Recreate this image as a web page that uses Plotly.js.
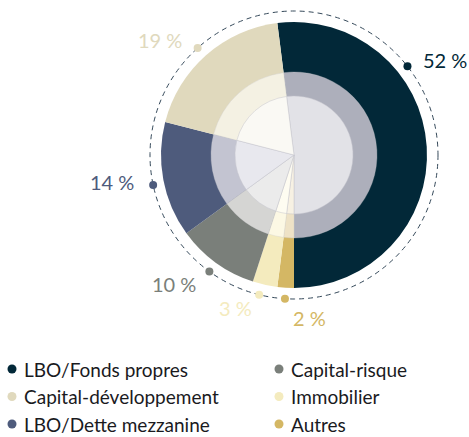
<!DOCTYPE html>
<html>
<head>
<meta charset="utf-8">
<script src="https://cdn.plot.ly/plotly-3.0.1.min.js"></script>
<style>
  html, body { margin: 0; padding: 0; background: #fff; }
  #chart { width: 469px; height: 437px; }
</style>
</head>
<body>
<div id="chart"></div>
<script>
// data
const categories = ["LBO/Fonds propres", "Autres", "Immobilier", "Capital-risque", "LBO/Dette mezzanine", "Capital-développement"];
const shares = [52, 2, 3, 10, 14, 19];
const pctLabels = ["52 %", "2 %", "3 %", "10 %", "14 %", "19 %"];

// styling
const outerColors  = ["#022838", "#d4b764", "#f4ebbe", "#7a7f7a", "#4e5b7c", "#e0d9bd"];
const middleColors = ["#adafbb", "#eee2c6", "#fcf8e4", "#d5d5d3", "#c3c4d1", "#f4f1e3"];
const innerColors  = ["#e2e2e7", "#f7f1e3", "#fefcf1", "#ebebeb", "#e8e8ee", "#faf9f4"];
const labelAngles  = [52, 183.6, 194, 216, 258, 318];   // where each little dot sits, deg clockwise from top
const legendOrder  = [0, 5, 4, 3, 2, 1];               // column-major, like the original

const W = 469, H = 437;
const cx = 294, cy = 155;

function dom(r) {
  return {
    x: [(cx - r) / W, (cx + r) / W],
    y: [(H - cy - r) / H, (H - cy + r) / H]
  };
}

function pieLayer(r, colors, line) {
  return {
    type: "pie",
    values: shares,
    labels: categories,
    sort: false,
    direction: "clockwise",
    rotation: -7.2,
    textinfo: "none",
    hoverinfo: "label+percent",
    showlegend: false,
    domain: dom(r),
    marker: { colors: colors, line: line }
  };
}

const traces = [
  pieLayer(133, outerColors, { width: 0 }),
  pieLayer(83, middleColors, { width: 0.5, color: "rgba(200,200,205,0.6)" }),
  pieLayer(59, innerColors, { width: 0.6, color: "rgba(195,195,205,0.8)" })
];

// dots on the dashed ring
const ringR = 144;
const dotX = labelAngles.map(a => cx + ringR * Math.sin(a * Math.PI / 180));
const dotY = labelAngles.map(a => cy - ringR * Math.cos(a * Math.PI / 180));
traces.push({
  type: "scatter", mode: "markers", x: dotX, y: dotY,
  marker: { size: 8, color: outerColors }, hoverinfo: "skip", showlegend: false
});

// legend dots
const legX = [], legY = [], legC = [];
const annotations = [];
legendOrder.forEach((idx, k) => {
  const col = Math.floor(k / 3), row = k % 3;
  const x = col === 0 ? 12 : 279;
  const y = 369 + row * 27.5;
  legX.push(x); legY.push(y); legC.push(outerColors[idx]);
  annotations.push({
    x: x + 10, y: y, xref: "x", yref: "y", xanchor: "left", yanchor: "middle",
    text: categories[idx], showarrow: false,
    font: { family: "Lato, sans-serif", size: 19, color: "#1a1a1e" }
  });
});
traces.push({
  type: "scatter", mode: "markers", x: legX, y: legY,
  marker: { size: 9, color: legC }, hoverinfo: "skip", showlegend: false
});

// percentage labels
const labelPos = [
  { x: 421, y: 60, xa: "left" },
  { x: 291, y: 318, xa: "left" },
  { x: 254, y: 308, xa: "right" },
  { x: 198, y: 284, xa: "right" },
  { x: 136, y: 182, xa: "right" },
  { x: 184, y: 40, xa: "right" }
];
labelPos.forEach((p, i) => {
  annotations.push({
    x: p.x, y: p.y, xref: "x", yref: "y", xanchor: p.xa, yanchor: "middle",
    text: pctLabels[i], showarrow: false,
    font: { family: "Lato, sans-serif", size: 20, color: outerColors[i] }
  });
});

const layout = {
  width: W, height: H,
  margin: { l: 0, r: 0, t: 0, b: 0 },
  paper_bgcolor: "#fff", plot_bgcolor: "rgba(0,0,0,0)",
  xaxis: { range: [0, W], visible: false, fixedrange: true },
  yaxis: { range: [H, 0], visible: false, fixedrange: true },
  showlegend: false,
  shapes: [{
    type: "circle", xref: "x", yref: "y", layer: "below",
    x0: cx - ringR, x1: cx + ringR, y0: cy - ringR, y1: cy + ringR,
    line: { color: "#35495a", width: 1, dash: "5px,4px" }
  }],
  annotations: annotations
};

Plotly.newPlot("chart", traces, layout, { displayModeBar: false, staticPlot: true });
</script>
</body>
</html>
